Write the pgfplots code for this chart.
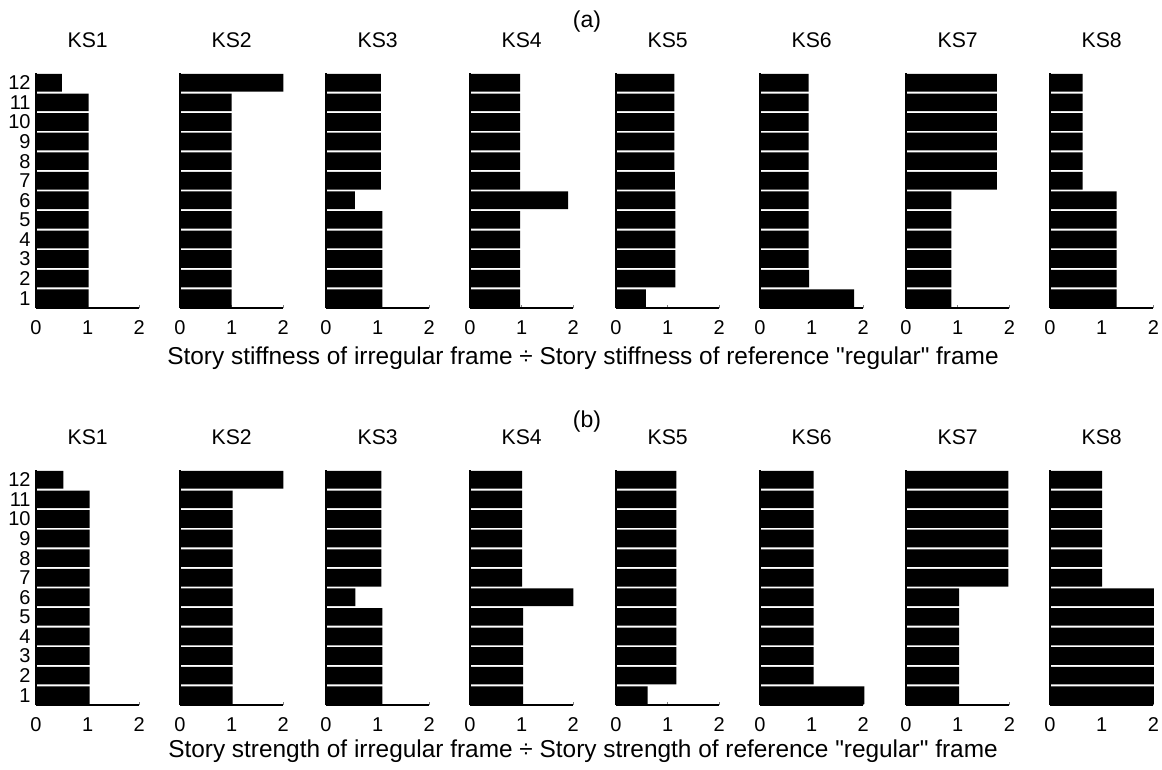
\documentclass[border=0pt]{standalone}
\usepackage{fontspec}
\setmainfont{Liberation Sans}[Ligatures=TeXOff]
\usepackage{pgfplots}
\pgfplotsset{compat=1.18}
\pgfplotsset{
  ks/.style={
    xbar, scale only axis, width=51.65pt, height=117.5pt,
    xmin=0, xmax=2, ymin=0.5, ymax=12.5,
    axis lines*=left, axis line style={-, line width=0.9pt},
    xtick={0,1,2}, tick align=inside, major tick length=1.6pt,
    ytick={1,...,12}, ytick style={draw=none},
    yticklabel style={font=\fontsize{10}{10}\selectfont, xshift=0.8pt},
    xticklabel style={font=\fontsize{10}{10}\selectfont, yshift=-2.8pt},
    /pgf/number format/assume math mode=true,
    title style={at={(0.5,1)}, anchor=center, yshift=10.5pt, font=\fontsize{10.6}{11}\selectfont},
    clip=false, anchor=south west,
  },
  bb/.style={fill=black, draw=none, bar width=0.9},
  noy/.style={ytick=\empty},
}
\begin{document}
\begin{tikzpicture}
\path[use as bounding box] (0,0) rectangle (581pt,-385pt);
% ---------------- (a) stiffness ----------------
\node[font=\fontsize{11.5}{12}\selectfont] at (293.5pt,-11pt) {(a)};
\begin{axis}[ks, at={(18pt,-154pt)}, title={KS1}]
\addplot[bb] coordinates {(1.02,1)(1.02,2)(1.02,3)(1.02,4)(1.02,5)(1.02,6)(1.02,7)(1.02,8)(1.02,9)(1.02,10)(1.02,11)(0.50,12)};
\end{axis}
\begin{axis}[ks, noy, at={(90pt,-154pt)}, title={KS2}]
\addplot[bb] coordinates {(1.00,1)(1.00,2)(1.00,3)(1.00,4)(1.00,5)(1.00,6)(1.00,7)(1.00,8)(1.00,9)(1.00,10)(1.00,11)(2.00,12)};
\end{axis}
\begin{axis}[ks, noy, at={(163pt,-154pt)}, title={KS3}]
\addplot[bb] coordinates {(1.09,1)(1.09,2)(1.09,3)(1.09,4)(1.09,5)(0.56,6)(1.06,7)(1.06,8)(1.06,9)(1.06,10)(1.06,11)(1.06,12)};
\end{axis}
\begin{axis}[ks, noy, at={(235pt,-154pt)}, title={KS4}]
\addplot[bb] coordinates {(0.97,1)(0.97,2)(0.97,3)(0.97,4)(0.97,5)(1.90,6)(0.97,7)(0.97,8)(0.97,9)(0.97,10)(0.97,11)(0.97,12)};
\end{axis}
\begin{axis}[ks, noy, at={(308pt,-154pt)}, title={KS5}]
\addplot[bb] coordinates {(0.58,1)(1.15,2)(1.15,3)(1.15,4)(1.15,5)(1.15,6)(1.14,7)(1.13,8)(1.13,9)(1.13,10)(1.13,11)(1.13,12)};
\end{axis}
\begin{axis}[ks, noy, at={(380pt,-154pt)}, title={KS6}]
\addplot[bb] coordinates {(1.82,1)(0.95,2)(0.94,3)(0.94,4)(0.94,5)(0.94,6)(0.94,7)(0.94,8)(0.94,9)(0.94,10)(0.94,11)(0.94,12)};
\end{axis}
\begin{axis}[ks, noy, at={(453pt,-154pt)}, title={KS7}]
\addplot[bb] coordinates {(0.88,1)(0.88,2)(0.88,3)(0.88,4)(0.88,5)(0.88,6)(1.76,7)(1.76,8)(1.76,9)(1.76,10)(1.76,11)(1.76,12)};
\end{axis}
\begin{axis}[ks, noy, at={(525pt,-154pt)}, title={KS8}]
\addplot[bb] coordinates {(1.29,1)(1.29,2)(1.29,3)(1.29,4)(1.29,5)(1.29,6)(0.63,7)(0.63,8)(0.63,9)(0.63,10)(0.63,11)(0.63,12)};
\end{axis}
\node[font=\fontsize{12.2}{13}\selectfont] at (291.5pt,-179pt) {Story stiffness of irregular frame ÷ Story stiffness of reference "regular" frame};
% ---------------- (b) strength ----------------
\node[font=\fontsize{11.5}{12}\selectfont] at (293.5pt,-211pt) {(b)};
\begin{axis}[ks, at={(18pt,-352.5pt)}, title={KS1}]
\addplot[bb] coordinates {(1.04,1)(1.04,2)(1.04,3)(1.04,4)(1.04,5)(1.04,6)(1.04,7)(1.04,8)(1.04,9)(1.04,10)(1.04,11)(0.53,12)};
\end{axis}
\begin{axis}[ks, noy, at={(90pt,-352.5pt)}, title={KS2}]
\addplot[bb] coordinates {(1.02,1)(1.02,2)(1.02,3)(1.02,4)(1.02,5)(1.02,6)(1.02,7)(1.02,8)(1.02,9)(1.02,10)(1.02,11)(2.00,12)};
\end{axis}
\begin{axis}[ks, noy, at={(163pt,-352.5pt)}, title={KS3}]
\addplot[bb] coordinates {(1.09,1)(1.09,2)(1.09,3)(1.09,4)(1.09,5)(0.57,6)(1.07,7)(1.07,8)(1.07,9)(1.07,10)(1.07,11)(1.07,12)};
\end{axis}
\begin{axis}[ks, noy, at={(235pt,-352.5pt)}, title={KS4}]
\addplot[bb] coordinates {(1.03,1)(1.03,2)(1.03,3)(1.03,4)(1.03,5)(2.00,6)(1.01,7)(1.01,8)(1.01,9)(1.01,10)(1.01,11)(1.01,12)};
\end{axis}
\begin{axis}[ks, noy, at={(308pt,-352.5pt)}, title={KS5}]
\addplot[bb] coordinates {(0.61,1)(1.17,2)(1.17,3)(1.17,4)(1.17,5)(1.17,6)(1.17,7)(1.17,8)(1.17,9)(1.17,10)(1.17,11)(1.17,12)};
\end{axis}
\begin{axis}[ks, noy, at={(380pt,-352.5pt)}, title={KS6}]
\addplot[bb] coordinates {(2.02,1)(1.04,2)(1.04,3)(1.04,4)(1.04,5)(1.04,6)(1.04,7)(1.04,8)(1.04,9)(1.04,10)(1.04,11)(1.04,12)};
\end{axis}
\begin{axis}[ks, noy, at={(453pt,-352.5pt)}, title={KS7}]
\addplot[bb] coordinates {(1.03,1)(1.03,2)(1.03,3)(1.03,4)(1.03,5)(1.03,6)(1.98,7)(1.98,8)(1.98,9)(1.98,10)(1.98,11)(1.98,12)};
\end{axis}
\begin{axis}[ks, noy, at={(525pt,-352.5pt)}, title={KS8}]
\addplot[bb] coordinates {(2.01,1)(2.01,2)(2.01,3)(2.01,4)(2.01,5)(2.01,6)(1.01,7)(1.01,8)(1.01,9)(1.01,10)(1.01,11)(1.01,12)};
\end{axis}
\node[font=\fontsize{12.2}{13}\selectfont] at (291.5pt,-375.5pt) {Story strength of irregular frame ÷ Story strength of reference "regular" frame};
\end{tikzpicture}
\end{document}
